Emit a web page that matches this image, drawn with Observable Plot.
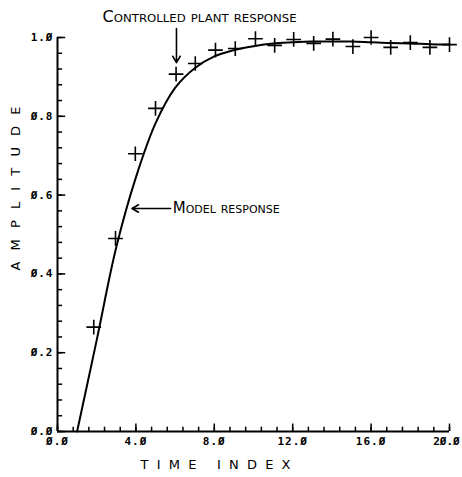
<!DOCTYPE html>
<html>
<head>
<meta charset="utf-8">
<script src="https://cdn.jsdelivr.net/npm/d3@7"></script>
<script src="https://cdn.jsdelivr.net/npm/@observablehq/plot@0.6"></script>
<style>
  html, body { margin: 0; padding: 0; background: #fff; }
  g[aria-label="x-axis tick label"] text, g[aria-label="y-axis tick label"] text { letter-spacing: 1px; }
</style>
</head>
<body>
<div id="chart"></div>
<script>
// Controlled plant response (plus markers)
const plantX = [1.85, 2.96, 3.97, 5.0, 6.05, 7.03, 8.06, 9.07, 10.1, 11.08, 12.05, 13.07, 14.05, 15.07, 16.0, 17.0, 18.0, 19.0, 20.0];
const plantY = [0.265, 0.49, 0.705, 0.82, 0.907, 0.934, 0.968, 0.972, 0.997, 0.98, 0.995, 0.985, 0.996, 0.977, 1.0, 0.975, 0.987, 0.975, 0.982];

// Model response (solid line)
const modelX = [1, 2, 3, 4, 5, 6, 7, 8, 9, 10, 11, 12, 13, 14, 15, 16, 17, 18, 19, 20];
const modelY = [0, 0.232, 0.468, 0.645, 0.782, 0.872, 0.922, 0.952, 0.968, 0.978, 0.985, 0.988, 0.99, 0.99, 0.99, 0.988, 0.986, 0.985, 0.983, 0.982];

// Tick values and labels
const xTicks = [0, 4, 8, 12, 16, 20];
const xTickLabels = ["Ø.Ø", "4.Ø", "8.Ø", "12.Ø", "16.Ø", "2Ø.Ø"];
const yTicks = [0, 0.2, 0.4, 0.6, 0.8, 1.0];
const yTickLabels = ["Ø.Ø", "Ø.2", "Ø.4", "Ø.6", "Ø.8", "1.Ø"];
const xMinorTicks = [0, 0.8, 1.6, 2.4, 3.2, 4, 4.8, 5.6, 6.4, 7.2, 8, 8.8, 9.6, 10.4, 11.2, 12, 12.8, 13.6, 14.4, 15.2, 16, 16.8, 17.6, 18.4, 19.2, 20];
const yMinorTicks = [0, 0.04, 0.08, 0.12, 0.16, 0.2, 0.24, 0.28, 0.32, 0.36, 0.4, 0.44, 0.48, 0.52, 0.56, 0.6, 0.64, 0.68, 0.72, 0.76, 0.8, 0.84, 0.88, 0.92, 0.96, 1.0];

// Texts
const xTitle = "TIME INDEX";
const yTitle = "AMPLITUDE";
const plantLabel = "Controlled plant response";
const modelLabel = "Model response";

// annotation anchors (data space)
const plantArrow = {x: 6.07, y1: 1.023, y2: 0.936, tx: 2.3, ty: 1.052};
const modelArrow = {x1: 5.77, x2: 3.8, y: 0.566, tx: 5.88};

const plant = plantX.map((x, i) => ({x, y: plantY[i]}));
const model = modelX.map((x, i) => ({x, y: modelY[i]}));

const chart = Plot.plot({
  width: 462,
  height: 477,
  marginLeft: 57,
  marginRight: 13,
  marginTop: 37,
  marginBottom: 46,
  x: {domain: [0, 20]},
  y: {domain: [0, 1]},
  style: {background: "white", color: "black", fontFamily: "DejaVu Sans"},
  marks: [
    // minor + major ticks drawn inward
    Plot.ruleY(yMinorTicks, {y: d => d, x1: 0, x2: 0.26, stroke: "black", strokeWidth: 1.5}),
    Plot.ruleY(yTicks, {y: d => d, x1: 0, x2: 0.42, stroke: "black", strokeWidth: 1.5}),
    Plot.ruleX(xMinorTicks, {x: d => d, y1: 0, y2: 0.011, stroke: "black", strokeWidth: 1.5}),
    Plot.ruleX(xTicks, {x: d => d, y1: 0, y2: 0.019, stroke: "black", strokeWidth: 1.5}),
    // axis lines
    Plot.ruleX([0], {y1: 0, y2: 1, stroke: "black", strokeWidth: 2}),
    Plot.ruleY([0], {x1: 0, x2: 20, stroke: "black", strokeWidth: 2}),
    // tick labels
    Plot.axisX({ticks: xTicks, tickSize: 0, tickPadding: 6, tickFormat: d => xTickLabels[xTicks.indexOf(d)], label: null,
      fontFamily: "DejaVu Sans Mono", fontWeight: "bold", fontSize: 11}),
    Plot.axisY({ticks: yTicks, tickSize: 0, tickPadding: 4, tickFormat: d => yTickLabels[yTicks.indexOf(d)], label: null,
      fontFamily: "DejaVu Sans Mono", fontWeight: "bold", fontSize: 11}),
    // axis titles
    Plot.text([xTitle], {text: d => d, frameAnchor: "bottom", dx: -38, dy: 37, fontSize: 13, fontFamily: "DejaVu Sans"}),
    Plot.text([yTitle], {text: d => d, frameAnchor: "left", rotate: -90, dx: -42, dy: 36, fontSize: 13, fontFamily: "DejaVu Sans"}),
    // model response line
    Plot.line(model, {x: "x", y: "y", curve: "catmull-rom", stroke: "black", strokeWidth: 2}),
    // plant response markers
    Plot.dot(plant, {x: "x", y: "y", symbol: "plus", r: 4.8, stroke: "black", strokeWidth: 1.6}),
    // annotations
    Plot.arrow([plantArrow], {x: "x", y1: "y1", y2: "y2", stroke: "black", strokeWidth: 1.6, headLength: 7}),
    Plot.text([plantArrow], {x: "tx", y: "ty", text: () => plantLabel, textAnchor: "start", fontVariant: "small-caps",
      fontSize: 15, fontFamily: "DejaVu Sans Condensed"}),
    Plot.arrow([modelArrow], {x1: "x1", x2: "x2", y: "y", stroke: "black", strokeWidth: 1.6, headLength: 7}),
    Plot.text([modelArrow], {x: "tx", y: "y", text: () => modelLabel, textAnchor: "start", fontVariant: "small-caps",
      fontSize: 15, fontFamily: "DejaVu Sans Condensed"})
  ]
});

document.getElementById("chart").appendChild(chart);

// fit the spaced titles and annotations to their widths
const fit = {"TIME INDEX": 150, "AMPLITUDE": 164, "Controlled plant response": 194, "Model response": 107};
chart.querySelectorAll("text").forEach(t => {
  const w = fit[t.textContent];
  if (w) {
    t.setAttribute("textLength", w);
    t.setAttribute("lengthAdjust", (t.textContent === "TIME INDEX" || t.textContent === "AMPLITUDE") ? "spacing" : "spacingAndGlyphs");
  }
  // keep the last x tick label inside the picture
  if (t.textContent === xTickLabels[xTickLabels.length - 1]) {
    t.style.letterSpacing = "0px";
    t.setAttribute("dx", "-3");
  }
});
</script>
</body>
</html>
